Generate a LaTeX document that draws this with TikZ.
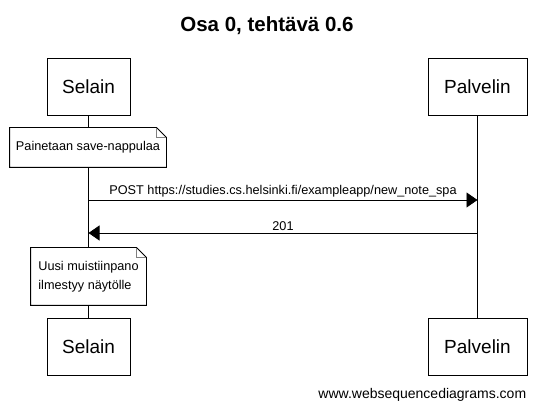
\documentclass[tikz,border=0pt]{standalone}
\usepackage{fontspec}
\setmainfont{Liberation Sans}
\usetikzlibrary{positioning,arrows.meta,calc}
\tikzset{
	seq/.style={x=1pt,y=-1pt,>={Triangle[length=11pt,width=15pt]},line width=0.9pt},
	actor/.style={rectangle,draw,fill=white,minimum height=57pt,font=\fontsize{19}{22}\selectfont},
	note/.style={rectangle,fill=white,align=left,inner sep=5pt,font=\fontsize{12.7}{19.5}\selectfont},
	fold/.style={draw=gray,line width=0.8pt},
	msg/.style={->},
	msglabel/.style={above,inner sep=2pt,font=\fontsize{12.7}{15}\selectfont}
}

\begin{document}
\begin{tikzpicture}[seq]
	\useasboundingbox (0,0) rectangle (539,409);
	\node[font=\bfseries\fontsize{20.5}{24}\selectfont] (title) at (267,26) {Osa 0, tehtävä 0.6};
	
	\node[actor,minimum width=83pt] (selain) at (88.5,86.5) {Selain};
	\node[actor,minimum width=99pt] (palvelin) at (477.5,86.5) {Palvelin};
	\node[actor,minimum width=83pt] (selain2) at (88.5,346.5) {Selain};
	\node[actor,minimum width=99pt] (palvelin2) at (477.5,346.5) {Palvelin};
	
	\draw (selain) -- (selain2);
	\draw (palvelin) -- (palvelin2);
	
	\node[note,minimum width=156pt,minimum height=39pt] (painetaan) at (88,147.5) {Painetaan save-nappulaa};
	\node[note,minimum width=115pt,minimum height=57pt] (uusi) at (88.5,276.5) {Uusi muistiinpano\\ilmestyy näytölle};
	\foreach \n in {painetaan,uusi}{
		\draw (\n.north west) -- ($(\n.north east)+(-10,0)$) -- ($(\n.north east)+(0,10)$) -- (\n.south east) -- (\n.south west) -- cycle;
		\draw[fold] ($(\n.north east)+(-10,0)$) -- ($(\n.north east)+(-10,10)$) -- ($(\n.north east)+(0,10)$);
	}
	
	\coordinate (post) at (0,200);
	\coordinate (vastaus) at (0,233);
	\draw[msg] (selain |- post) -- node[msglabel] {POST https://studies.cs.helsinki.fi/exampleapp/new\_note\_spa} (palvelin |- post);
	\draw[msg] (palvelin |- vastaus) -- node[msglabel] {201} (selain |- vastaus);
	
	\node[anchor=east,font=\fontsize{14}{16}\selectfont] (wsd) at (530,395) {www.websequencediagrams.com};
\end{tikzpicture}
\end{document}
